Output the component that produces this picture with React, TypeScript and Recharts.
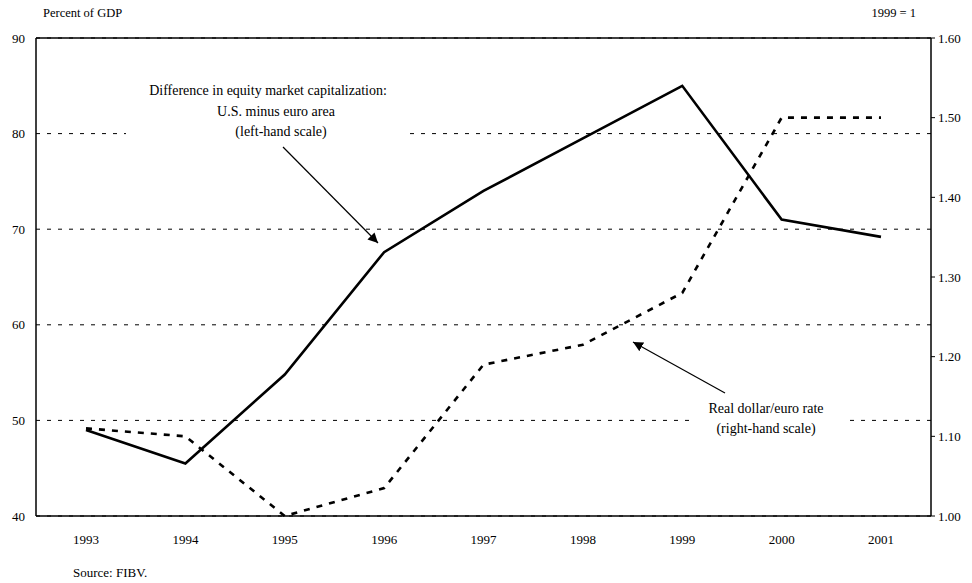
import React from 'react';
import { LineChart, Line, XAxis, YAxis, CartesianGrid, ReferenceLine } from 'recharts';

const years = ['1993', '1994', '1995', '1996', '1997', '1998', '1999', '2000', '2001'];
const equityGap = [49.0, 45.5, 54.8, 67.6, 74.0, 79.5, 85.0, 71.0, 69.2];
const dollarEuro = [1.11, 1.10, 1.0, 1.035, 1.19, 1.215, 1.28, 1.50, 1.50];
const leftTicks = [40, 50, 60, 70, 80, 90];
const rightTicks = [1.0, 1.1, 1.2, 1.3, 1.4, 1.5, 1.6];

const data = years.map((y, i) => ({ year: y, gap: equityGap[i], rate: dollarEuro[i] }));

const FONT = 'Liberation Serif, DejaVu Serif, serif';
const W = 972;
const H = 583;
const tickStyle = { fill: '#000', fontSize: 13, style: { fontFamily: FONT } };
const txt = { fill: '#000', style: { fontFamily: FONT } };

export default function App() {
  return (
    <div style={{ position: 'absolute', left: 0, top: 0, width: W, height: H, background: '#fff', fontFamily: FONT }}>
      <LineChart width={W} height={H} data={data} margin={{ top: 38, right: 0, bottom: 0, left: 0 }} style={{ fontFamily: FONT }}>
        <CartesianGrid vertical={false} stroke="#000" strokeWidth={1} strokeDasharray="4 7" yAxisId="left" />
        <XAxis
          dataKey="year"
          height={67}
          padding={{ left: 50, right: 50 }}
          tickLine={false}
          axisLine={{ stroke: '#000', strokeWidth: 1.5 }}
          tick={tickStyle}
          tickMargin={13}
        />
        <YAxis
          yAxisId="left"
          orientation="left"
          width={36}
          domain={[40, 90]}
          ticks={leftTicks}
          interval={0}
          tickLine={false}
          axisLine={{ stroke: '#000', strokeWidth: 1.5 }}
          tick={tickStyle}
          tickMargin={5}
        />
        <YAxis
          yAxisId="right"
          orientation="right"
          width={41}
          domain={[1.0, 1.6]}
          ticks={rightTicks}
          interval={0}
          tickFormatter={(v: number) => v.toFixed(2)}
          tickSize={4}
          tickLine={{ stroke: '#000' }}
          axisLine={{ stroke: '#000', strokeWidth: 1.5 }}
          tick={tickStyle}
          tickMargin={3}
        />
        <ReferenceLine yAxisId="left" y={90} stroke="#000" strokeWidth={1.5} />
        <Line
          yAxisId="left"
          type="linear"
          dataKey="gap"
          stroke="#000"
          strokeWidth={2.6}
          dot={false}
          isAnimationActive={false}
        />
        <Line
          yAxisId="right"
          type="linear"
          dataKey="rate"
          stroke="#000"
          strokeWidth={2.6}
          strokeDasharray="6 7"
          dot={false}
          isAnimationActive={false}
        />
      </LineChart>
      <svg
        width={W}
        height={H}
        style={{ position: 'absolute', left: 0, top: 0, pointerEvents: 'none', fontFamily: FONT }}
      >
        <defs>
          <marker id="ah" viewBox="0 0 10 10" refX="10" refY="5" markerWidth="10" markerHeight="10" orient="auto-start-reverse" markerUnits="userSpaceOnUse">
            <path d="M0,0 L10,5 L0,10 z" fill="#000" />
          </marker>
        </defs>
        <text x={43} y={17} fontSize={12.5} {...txt}>Percent of GDP</text>
        <text x={916} y={17} fontSize={12.5} {...txt} textAnchor="end">1999 = 1</text>
        <text x={73} y={577} fontSize={13} {...txt}>Source: FIBV.</text>

        <rect x={126} y={127} width={284} height={13} fill="#fff" />
        <text x={268} y={95} fontSize={14} {...txt} textAnchor="middle">Difference in equity market capitalization:</text>
        <text x={276} y={116} fontSize={14} {...txt} textAnchor="middle">U.S. minus euro area</text>
        <text x={281} y={136} fontSize={14} {...txt} textAnchor="middle">(left-hand scale)</text>
        <line x1={283} y1={147} x2={378} y2={243} stroke="#000" strokeWidth={1.2} markerEnd="url(#ah)" />

        <rect x={690} y={414} width={160} height={13} fill="#fff" />
        <text x={766} y={413} fontSize={14} {...txt} textAnchor="middle">Real dollar/euro rate</text>
        <text x={766} y={433} fontSize={14} {...txt} textAnchor="middle">(right-hand scale)</text>
        <line x1={725} y1={393} x2={633} y2={342} stroke="#000" strokeWidth={1.2} markerEnd="url(#ah)" />
      </svg>
    </div>
  );
}
